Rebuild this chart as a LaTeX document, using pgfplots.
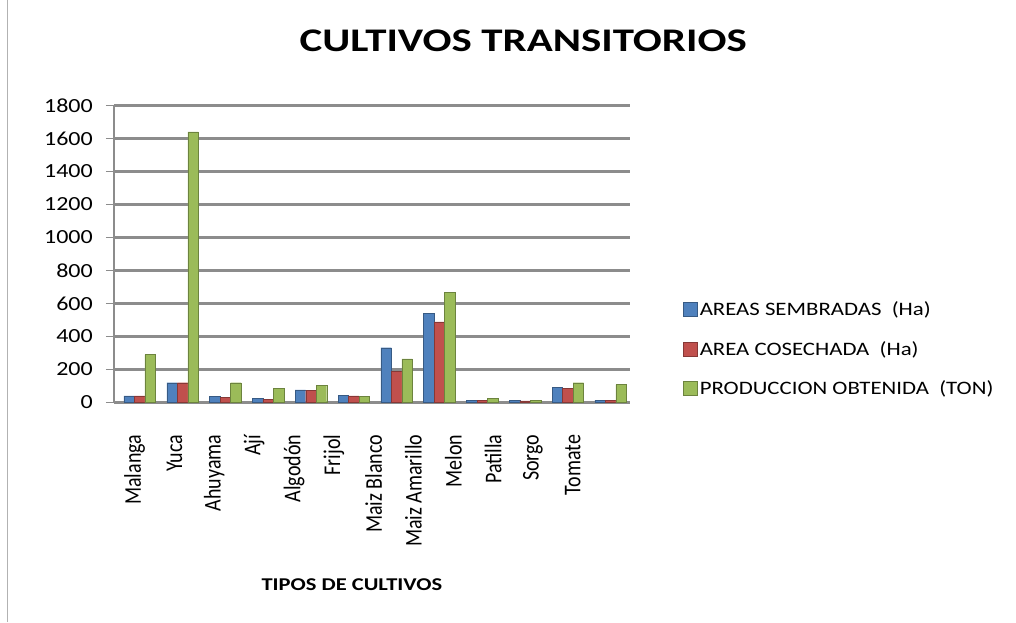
\documentclass[border=0pt]{standalone}
\usepackage{pgfplots}
\pgfplotsset{compat=1.18}
\usepackage{fontspec}
\setmainfont{Carlito}
\definecolor{cblue}{HTML}{4F81BD}
\definecolor{cred}{HTML}{C0504D}
\definecolor{cgreen}{HTML}{9BBB59}
\definecolor{gridc}{HTML}{8C8C8C}
\newcommand{\xl}[1]{\rotatebox{90}{\makebox[150pt][r]{\scalebox{1}[1.2]{#1}}}}
\newcommand{\hs}[1]{\scalebox{1.2}[1]{#1}}
\begin{document}
\begin{tikzpicture}[x=1pt,y=1pt]
\path[use as bounding box] (-114,-219.5) rectangle (902,402.5);
\draw[gray!60,line width=1pt] (-106,-219.5) -- (-106,402.5);
\begin{axis}[
  at={(0,0)}, anchor=south west,
  scale only axis, width=516pt, height=297pt,
  xmin=-0.6, xmax=11.45, ymin=0, ymax=1800,
  ytick={0,200,...,1800},
  /pgf/number format/assume math mode=true,
  /pgf/number format/1000 sep={},
  yticklabel={\hs{\pgfmathprintnumber{\tick}}},
  ybar=0pt, bar width=10.5pt,
  axis x line=bottom, axis y line=left,
  axis line style={-, gridc, line width=2.5pt},
  ymajorgrids, grid style={gridc, line width=2.2pt},
  y tick style={gridc, line width=1pt},
  tick align=outside, major tick length=8pt,
  x tick style={draw=none},
  xtick={-0.117,0.813,1.743,2.673,3.603,4.533,5.463,6.393,7.323,8.253,9.183,10.113},
  xticklabels={\xl{Malanga},\xl{Yuca},\xl{Ahuyama},\xl{Ají},\xl{Algodón},\xl{Frijol},\xl{Maiz Blanco},\xl{Maiz Amarillo},\xl{Melon},\xl{Patilla},\xl{Sorgo},\xl{Tomate}},
  xticklabel style={anchor=north, inner sep=0pt, font=\fontsize{20}{22}\selectfont},
  xticklabel shift=24pt,
  yticklabel style={anchor=east, inner sep=0pt, font=\fontsize{20}{22}\selectfont},
  yticklabel shift=13pt,
  title={\scalebox{1.3}[1]{CULTIVOS TRANSITORIOS}},
  title style={at={(axis description cs:0.793,1.197)}, anchor=center, font=\fontsize{33}{36}\selectfont\bfseries},
  xlabel={\scalebox{1.25}[1]{TIPOS DE CULTIVOS}},
  xlabel style={at={(axis description cs:0.461,-0.614)}, anchor=center, font=\fontsize{18}{20}\selectfont\bfseries},
  legend style={at={(axis description cs:1.103,0.18)}, anchor=west, draw=none, fill=none,
    font=\fontsize{19}{21}\selectfont, row sep=20pt, inner sep=0pt},
  legend cell align=left,
  legend image code/.code={\fill[#1] (0pt,-7pt) rectangle (14pt,7pt);},
]
\addplot[fill=cblue, draw=cblue!70!black] coordinates {
(0,40) (1,120) (2,36) (3,26) (4,76) (5,44) (6,332) (7,542) (8,12) (9,12) (10,92) (11,14)};
\addplot[fill=cred, draw=cred!70!black] coordinates {
(0,40) (1,120) (2,30) (3,20) (4,72) (5,40) (6,190) (7,488) (8,12) (9,10) (10,84) (11,14)};
\addplot[fill=cgreen, draw=cgreen!70!black] coordinates {
(0,290) (1,1640) (2,120) (3,86) (4,106) (5,38) (6,264) (7,668) (8,24) (9,12) (10,120) (11,108)};
\legend{\hs{AREAS SEMBRADAS\ \ (Ha)}, \hs{AREA COSECHADA\ \ (Ha)}, \hs{PRODUCCION OBTENIDA\ \ (TON)}}
\end{axis}
\end{tikzpicture}
\end{document}
